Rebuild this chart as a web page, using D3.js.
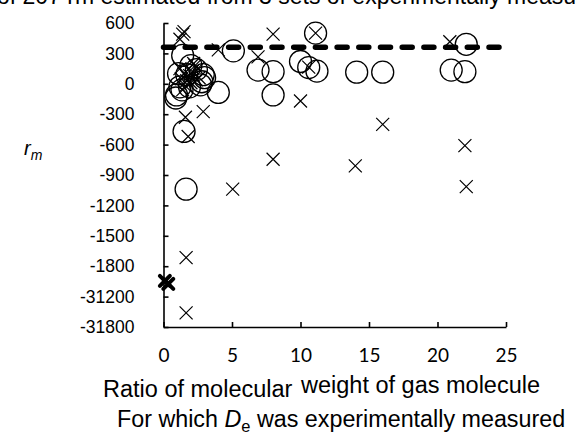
<!DOCTYPE html>
<html>
<head>
<meta charset="utf-8">
<script src="https://cdn.jsdelivr.net/npm/d3@7"></script>
<style>
  body { margin: 0; background: #fff; }
  svg { display: block; font-family: "Liberation Sans", Arial, sans-serif; }
  .axis path, .axis line { stroke: #000; stroke-width: 1.6; }
  .axis text { fill: #000; }
</style>
</head>
<body>
<div id="chart"></div>
<script>
// set 1: crosses
const crossX = [1.2, 1.4, 1.5, 8.0, 11.1, 4.0, 6.9, 10.6, 20.9,
    1.3, 1.5, 1.7, 1.9, 2.1, 2.3, 2.5, 1.6, 2.0, 2.6, 1.2, 2.2, 1.4, 1.8, 2.4,
    2.9, 1.6, 1.8, 10.0, 16.0, 22.0, 14.0, 22.1, 8.0, 5.05, 1.65, 1.65];
const crossY = [440, 490, 515, 490, 500, 335, 265, 165, 415,
    50, 100, 30, 80, 120, 180, 150, -20, 10, 60, 150, 200, -60, 140, 40,
    -275, -330, -520, -170, -400, -610, -810, -1015, -745, -1040, -1715, -2260];

// set 2: circles
const circleX = [1.4, 5.1, 11.1, 22.1, 6.9, 8.0, 8.0, 10.0, 10.6, 11.2, 14.1, 16.0, 21.0, 22.0, 4.0, 1.5, 1.65,
    1.1, 1.7, 2.4, 2.9, 1.2, 1.9, 0.95, 1.35, 2.7, 2.8, 3.0, 2.0, 0.9];
const circleY = [280, 325, 500, 390, 135, 120, -110, 220, 160, 125, 115, 115, 135, 120, -85, -470, -1040,
    100, 90, 140, 90, -30, -30, -110, -60, -10, 20, 60, 180, -140];

// set 3: bold markers
const boldX = [0.1, 0.35];
const boldY = [-1945, -1975];

// dashed reference line
const lineX = [0, 24.9];
const lineY = [360, 360];

const xTicks = [0, 5, 10, 15, 20, 25];
const yTicks = [600, 300, 0, -300, -600, -900, -1200, -1500, -1800, -2100, -2400];
const yTickLabels = ["600", "300", "0", "-300", "-600", "-900", "-1200", "-1500", "-1800", "-31200", "-31800"];

const W = 577, H = 441;
const svg = d3.select("#chart").append("svg").attr("width", W).attr("height", H);

const x = d3.scaleLinear().domain([0, 25]).range([163.5, 506]);
const y = d3.scaleLinear().domain([-2400, 600]).range([327, 23]);

// title (clipped at top like the source)
svg.append("text")
    .attr("x", -3).attr("y", 4)
    .attr("font-size", 23)
    .text("of 207 rm estimated from 3 sets of experimentally measured De");

// axes
svg.append("g").attr("class", "axis")
    .attr("transform", `translate(${x(0)},0)`)
    .call(d3.axisLeft(y).tickValues(yTicks).tickSizeInner(-5).tickSizeOuter(0).tickPadding(29)
        .tickFormat((d, i) => yTickLabels[i]))
    .call(g => g.selectAll("text").attr("font-size", 17.5).attr("font-family", "'Liberation Sans', Arial"));

svg.append("g").attr("class", "axis")
    .attr("transform", `translate(0,${y(-2400)})`)
    .call(d3.axisBottom(x).tickValues(xTicks).tickSizeInner(-5).tickSizeOuter(0).tickPadding(22))
    .call(g => g.selectAll("text").attr("font-size", 19).attr("font-family", "Lato, 'Open Sans', sans-serif"));

// dashed line
svg.append("line")
    .attr("x1", x(lineX[0])).attr("x2", x(lineX[1]))
    .attr("y1", y(lineY[0])).attr("y2", y(lineY[1]))
    .attr("stroke", "#000").attr("stroke-width", 5.5)
    .attr("stroke-linecap", "round")
    .attr("stroke-dasharray", "10,11.7");

// circles
svg.append("g").selectAll("circle")
    .data(circleX.map((v, i) => [v, circleY[i]]))
    .enter().append("circle")
    .attr("cx", d => x(d[0])).attr("cy", d => y(d[1]))
    .attr("r", 11)
    .attr("fill", "none").attr("stroke", "#000").attr("stroke-width", 1.3);

function crossPath(cx, cy, s) {
    return `M${cx - s},${cy - s}L${cx + s},${cy + s}M${cx - s},${cy + s}L${cx + s},${cy - s}`;
}

svg.append("g").selectAll("path")
    .data(crossX.map((v, i) => [v, crossY[i]]))
    .enter().append("path")
    .attr("d", d => crossPath(x(d[0]), y(d[1]), 6.5))
    .attr("fill", "none").attr("stroke", "#000").attr("stroke-width", 1.2);

svg.append("g").selectAll("path")
    .data(boldX.map((v, i) => [v, boldY[i]]))
    .enter().append("path")
    .attr("d", d => crossPath(x(d[0]), y(d[1]), 5))
    .attr("fill", "none").attr("stroke", "#000").attr("stroke-width", 4)
    .attr("stroke-linecap", "round");

// y label r_m
const yl = svg.append("text").attr("x", 24).attr("y", 155).attr("font-size", 20);
yl.append("tspan").attr("font-style", "italic").text("r");
yl.append("tspan").attr("font-style", "italic").attr("font-size", 14).attr("dy", 5).text("m");

// x label
svg.append("text").attr("x", 103).attr("y", 397).attr("font-size", 23.5).text("Ratio of molecular");
svg.append("text").attr("x", 301).attr("y", 393).attr("font-size", 23.5).text("weight of gas molecule");
const xl2 = svg.append("text").attr("x", 117).attr("y", 427).attr("font-size", 23.3);
xl2.append("tspan").text("For which ");
xl2.append("tspan").attr("font-style", "italic").text("D");
xl2.append("tspan").attr("font-size", 16.5).attr("dy", 5).text("e");
xl2.append("tspan").attr("dy", -5).text(" was experimentally measured");
</script>
</body>
</html>
